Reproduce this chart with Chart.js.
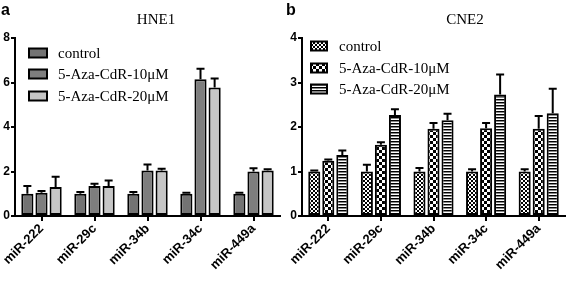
<!DOCTYPE html>
<html>
<head>
<meta charset="utf-8">
<script src="https://cdn.jsdelivr.net/npm/chart.js@4.4.1/dist/chart.umd.min.js"></script>
<style>
  html, body { margin: 0; padding: 0; background: #fff; }
  #wrap { position: relative; width: 567px; height: 288px; overflow: hidden; }
  .panel { position: absolute; top: 0; height: 288px; }
  .lbl { position: absolute; font: bold 16px "Liberation Sans", Arial, sans-serif; color: #000; }
  .ttl { position: absolute; font: 15px "Liberation Serif", "Times New Roman", serif; color: #000; transform: translateX(-50%); }
</style>
</head>
<body>
<div id="wrap">
  <div class="panel" style="left:0;width:283px"><canvas id="hne1"></canvas></div>
  <div class="panel" style="left:283px;width:284px"><canvas id="cne2"></canvas></div>
  <div class="lbl" style="left:1px;top:1px">a</div>
  <div class="lbl" style="left:286px;top:1px">b</div>
  <div class="ttl" style="left:156px;top:11px">HNE1</div>
  <div class="ttl" style="left:465px;top:11px">CNE2</div>
</div>
<script>
// --- data ---
const categories = ['miR-222', 'miR-29c', 'miR-34b', 'miR-34c', 'miR-449a'];
const seriesNames = ['control', '5-Aza-CdR-10\u03bcM', '5-Aza-CdR-20\u03bcM'];

// HNE1 (panel a)
const hneControl   = [1.0, 1.0, 1.0, 1.0, 1.0];
const hneControlSd = [0.35, 0.08, 0.08, 0.04, 0.04];
const hne10        = [1.05, 1.35, 2.05, 6.15, 2.0];
const hne10Sd      = [0.07, 0.1, 0.27, 0.47, 0.15];
const hne20        = [1.3, 1.35, 2.05, 5.78, 2.05];
const hne20Sd      = [0.46, 0.25, 0.07, 0.4, 0.05];
const hneTicks     = [0, 2, 4, 6, 8];

// CNE2 (panel b)
const cneControl   = [1.0, 1.0, 1.0, 1.0, 1.0];
const cneControlSd = [0.02, 0.15, 0.08, 0.05, 0.05];
const cne10        = [1.24, 1.6, 1.96, 1.97, 1.96];
const cne10Sd      = [0.03, 0.06, 0.13, 0.12, 0.29];
const cne20        = [1.37, 2.27, 2.15, 2.73, 2.31];
const cne20Sd      = [0.1, 0.13, 0.15, 0.45, 0.55];
const cneTicks     = [0, 1, 2, 3, 4];

// --- fill patterns for panel b ---
function makePattern(w, h, draw) {
    const c = document.createElement('canvas');
    c.width = w; c.height = h;
    const g = c.getContext('2d');
    g.fillStyle = '#fff';
    g.fillRect(0, 0, w, h);
    g.fillStyle = '#000';
    draw(g);
    return g.createPattern(c, 'repeat');
}
const fineCheck = makePattern(4, 4, g => { g.fillRect(0, 0, 2, 2); g.fillRect(2, 2, 2, 2); });
const bigCheck = makePattern(6, 6, g => { g.fillRect(0, 0, 3, 3); g.fillRect(3, 3, 3, 3); });
const stripes = makePattern(3, 3, g => { g.fillRect(0, 0, 3, 1); g.fillStyle = '#888'; g.fillRect(0, 1, 3, 1); });

const tickFont = { family: '"Liberation Sans", Arial, sans-serif', size: 12, weight: 'bold' };
const serifFont = '15px "Liberation Serif", "Times New Roman", serif';

// error bars (upper only) drawn from bar tops
const errorBars = {
    id: 'errorBars',
    afterDatasetsDraw(chart) {
        const ctx = chart.ctx;
        const y = chart.scales.y;
        ctx.save();
        ctx.strokeStyle = '#000';
        ctx.lineWidth = 2;
        chart.data.datasets.forEach((ds, di) => {
            const meta = chart.getDatasetMeta(di);
            meta.data.forEach((bar, i) => {
                const top = y.getPixelForValue(ds.data[i] + ds.sd[i]);
                ctx.beginPath();
                ctx.moveTo(bar.x, bar.y);
                ctx.lineTo(bar.x, top);
                ctx.moveTo(bar.x - 4, top);
                ctx.lineTo(bar.x + 4, top);
                ctx.stroke();
            });
        });
        ctx.restore();
    }
};

// legend inside the plot area
const boxLegend = {
    id: 'boxLegend',
    afterDraw(chart, args, opts) {
        const ctx = chart.ctx;
        ctx.save();
        chart.data.datasets.forEach((ds, i) => {
            const cy = opts.rows[i];
            ctx.fillStyle = ds.backgroundColor;
            ctx.fillRect(opts.x, cy - 4.5, opts.w, 9);
            ctx.strokeStyle = '#000';
            ctx.lineWidth = 2;
            ctx.strokeRect(opts.x, cy - 4.5, opts.w, 9);
            ctx.fillStyle = '#000';
            ctx.font = serifFont;
            ctx.textBaseline = 'middle';
            ctx.fillText(ds.label, opts.textX, cy + 1);
        });
        ctx.restore();
    }
};

function makeChart(id, sets, yMax, yStep, axisW, padRight, legendOpts) {
    return new Chart(document.getElementById(id), {
        type: 'bar',
        data: {
            labels: categories,
            datasets: sets.map((s, i) => ({
                label: seriesNames[i],
                data: s.data,
                sd: s.sd,
                backgroundColor: s.fill,
                borderColor: '#000',
                borderWidth: 2,
                borderSkipped: false,
                categoryPercentage: 0.8,
                barPercentage: 0.86
            }))
        },
        options: {
            responsive: true,
            maintainAspectRatio: false,
            animation: false,
            layout: { padding: { top: 38, right: padRight, left: 0, bottom: 0 } },
            plugins: { legend: { display: false }, tooltip: { enabled: false }, boxLegend: legendOpts },
            scales: {
                x: {
                    grid: { drawOnChartArea: false, offset: false, color: '#000', lineWidth: 2, tickLength: 5 },
                    border: { color: '#000', width: 2 },
                    ticks: { color: '#000', font: { ...tickFont, size: 13 }, minRotation: 45, maxRotation: 45, padding: 0 },
                    afterFit: s => { s.height = 72; }
                },
                y: {
                    min: 0, max: yMax,
                    grid: { drawOnChartArea: false, color: '#000', lineWidth: 2, tickLength: 4 },
                    border: { color: '#000', width: 2 },
                    ticks: { stepSize: yStep, color: '#000', font: tickFont, padding: 1 },
                    afterFit: s => { s.width = axisW; }
                }
            }
        },
        plugins: [errorBars, boxLegend]
    });
}

makeChart('hne1', [
    { data: hneControl, sd: hneControlSd, fill: '#737373' },
    { data: hne10, sd: hne10Sd, fill: '#7e7e7e' },
    { data: hne20, sd: hne20Sd, fill: '#c6c6c6' }
], hneTicks[hneTicks.length - 1], hneTicks[1] - hneTicks[0], 15, 3,
   { x: 29, w: 18, rows: [53, 74, 96], textX: 58 });

makeChart('cne2', [
    { data: cneControl, sd: cneControlSd, fill: fineCheck },
    { data: cne10, sd: cne10Sd, fill: bigCheck },
    { data: cne20, sd: cne20Sd, fill: stripes }
], cneTicks[cneTicks.length - 1], cneTicks[1] - cneTicks[0], 19, 2,
   { x: 28, w: 16, rows: [46, 68, 89], textX: 56 });
</script>
</body>
</html>
